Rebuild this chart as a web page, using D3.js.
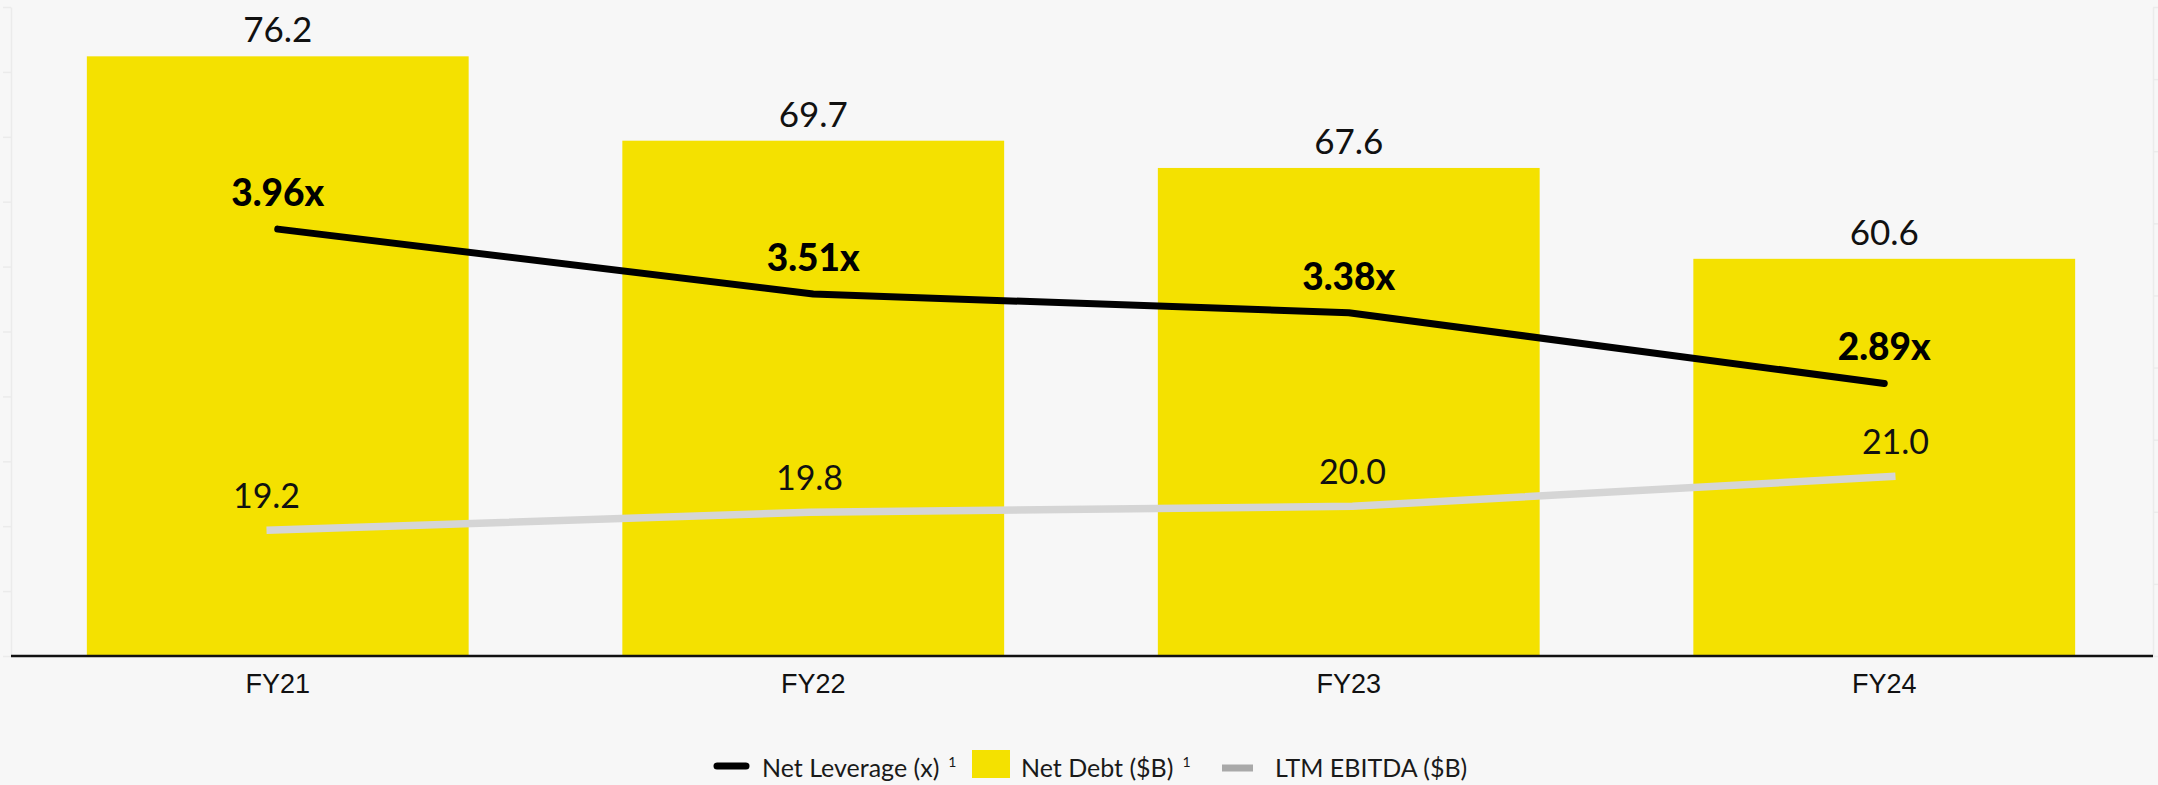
<!DOCTYPE html>
<html>
<head>
<meta charset="utf-8">
<script src="https://cdn.jsdelivr.net/npm/d3@7"></script>
<style>
  html, body { margin: 0; padding: 0; background: #f7f7f7; }
  svg { display: block; }
</style>
</head>
<body>
<svg id="chart" width="2158" height="785"></svg>
<script>
// Fiscal years and the three series shown on the chart
const categories = ["FY21", "FY22", "FY23", "FY24"];
const netDebt = [76.2, 69.7, 67.6, 60.6];        // $B, bars
const netLeverage = [3.96, 3.51, 3.38, 2.89];    // x, black line
const ltmEbitda = [19.2, 19.8, 20.0, 21.0];      // $B, grey line

// Axis tick values (axes themselves carry no labels)
const debtTicks = [30, 35, 40, 45, 50, 55, 60, 65, 70, 75, 80];
const leverageTicks = [1, 1.5, 2, 2.5, 3, 3.5, 4, 4.5, 5, 5.5];

const W = 2158, H = 785;
const plotLeft = 10, plotRight = 2152, plotTop = 7, plotBottom = 656;

const svg = d3.select("#chart");
svg.append("rect").attr("width", W).attr("height", H).attr("fill", "#f7f7f7");

const x = d3.scaleBand()
  .domain(categories)
  .range([plotLeft, plotRight])
  .paddingInner(0.287)
  .paddingOuter(0.1435);

const xPoint = d3.scalePoint()
  .domain(categories)
  .range([plotLeft, plotRight])
  .padding(0.4724);

const yDebt = d3.scaleLinear().domain([30, 80]).range([plotBottom, plotTop]);
const yLev = d3.scaleLinear().domain([1, 5.5]).range([plotBottom, plotTop]);
const yEbitda = d3.scaleLinear().domain([15, 36.67]).range([plotBottom, plotTop]);

// Faint left and right value axes
const leftAxis = svg.append("g")
  .attr("transform", `translate(${plotLeft + 1},0)`)
  .call(d3.axisLeft(yDebt).tickValues(debtTicks).tickSize(8).tickSizeOuter(0).tickFormat(""));
const rightAxis = svg.append("g")
  .attr("transform", `translate(${plotRight + 1},0)`)
  .call(d3.axisRight(yLev).tickValues(leverageTicks).tickSize(6).tickSizeOuter(0).tickFormat(""));
[leftAxis, rightAxis].forEach(g => {
  g.selectAll("path, line").attr("stroke", "#ebebeb").attr("stroke-width", 1.5);
});

// Net debt bars
svg.append("g").selectAll("rect")
  .data(categories)
  .join("rect")
  .attr("x", d => x(d))
  .attr("y", (d, i) => yDebt(netDebt[i]))
  .attr("width", x.bandwidth())
  .attr("height", (d, i) => plotBottom - yDebt(netDebt[i]))
  .attr("fill", "#f4e100");

// Bar value labels
svg.append("g").selectAll("text")
  .data(categories)
  .join("text")
  .attr("x", d => x(d) + x.bandwidth() / 2)
  .attr("y", (d, i) => yDebt(netDebt[i]) - 14)
  .attr("text-anchor", "middle")
  .attr("font-family", "Lato, 'Open Sans', sans-serif")
  .attr("font-size", 35)
  .attr("fill", "#111")
  .text((d, i) => netDebt[i].toFixed(1));

// Bottom axis
const bottomAxis = svg.append("g")
  .attr("transform", `translate(0,${plotBottom})`)
  .call(d3.axisBottom(x).tickSize(0).tickSizeOuter(0));
bottomAxis.select(".domain")
  .attr("d", `M${plotLeft + 1},0H${plotRight + 1}`)
  .attr("stroke", "#111").attr("stroke-width", 2.5);
bottomAxis.selectAll("text")
  .attr("y", 37).attr("dy", 0)
  .attr("font-family", "'Liberation Sans Narrow', 'Liberation Sans', sans-serif")
  .attr("font-size", 27)
  .attr("fill", "#111");

// LTM EBITDA line
svg.append("path")
  .datum(ltmEbitda)
  .attr("d", d3.line().x((d, i) => xPoint(categories[i])).y(d => yEbitda(d)))
  .attr("fill", "none")
  .attr("stroke", "#d5d5d5")
  .attr("stroke-width", 7.5);

svg.append("g").selectAll("text")
  .data(ltmEbitda)
  .join("text")
  .attr("x", (d, i) => xPoint(categories[i]))
  .attr("y", d => yEbitda(d) - 22)
  .attr("text-anchor", "middle")
  .attr("font-family", "Lato, 'Open Sans', sans-serif")
  .attr("font-size", 34)
  .attr("fill", "#111")
  .text(d => d.toFixed(1));

// Net leverage line
svg.append("path")
  .datum(netLeverage)
  .attr("d", d3.line().x((d, i) => x(categories[i]) + x.bandwidth() / 2).y(d => yLev(d)))
  .attr("fill", "none")
  .attr("stroke", "#000")
  .attr("stroke-width", 7)
  .attr("stroke-linecap", "round")
  .attr("stroke-linejoin", "round");

svg.append("g").selectAll("text")
  .data(netLeverage)
  .join("text")
  .attr("x", (d, i) => x(categories[i]) + x.bandwidth() / 2)
  .attr("y", d => yLev(d) - 23)
  .attr("text-anchor", "middle")
  .attr("font-family", "Lato, 'Open Sans', sans-serif")
  .attr("font-weight", 900)
  .attr("font-size", 37)
  .attr("fill", "#000")
  .text(d => d.toFixed(2) + "x");

// Legend
const legend = svg.append("g").attr("font-family", "Lato, 'Open Sans', sans-serif").attr("fill", "#1a1a1a");
const legendBase = 777;

function addLabel(xPos, label, sup) {
  const t = legend.append("text")
    .attr("x", xPos).attr("y", legendBase)
    .attr("font-size", 25)
    .text(label);
  if (sup) {
    const end = xPos + t.node().getComputedTextLength();
    legend.append("text")
      .attr("x", end + 9).attr("y", legendBase - 10)
      .attr("font-size", 14)
      .text(sup);
  }
}

legend.append("line")
  .attr("x1", 717).attr("x2", 746).attr("y1", 766).attr("y2", 766)
  .attr("stroke", "#000").attr("stroke-width", 7).attr("stroke-linecap", "round");
addLabel(762, "Net Leverage (x)", "1");

legend.append("rect")
  .attr("x", 972).attr("y", 750).attr("width", 38).attr("height", 28)
  .attr("fill", "#f4e100");
addLabel(1021, "Net Debt ($B)", "1");

legend.append("line")
  .attr("x1", 1222).attr("x2", 1253).attr("y1", 768).attr("y2", 768)
  .attr("stroke", "#a9a9a9").attr("stroke-width", 7);
addLabel(1275, "LTM EBITDA ($B)", null);
</script>
</body>
</html>
